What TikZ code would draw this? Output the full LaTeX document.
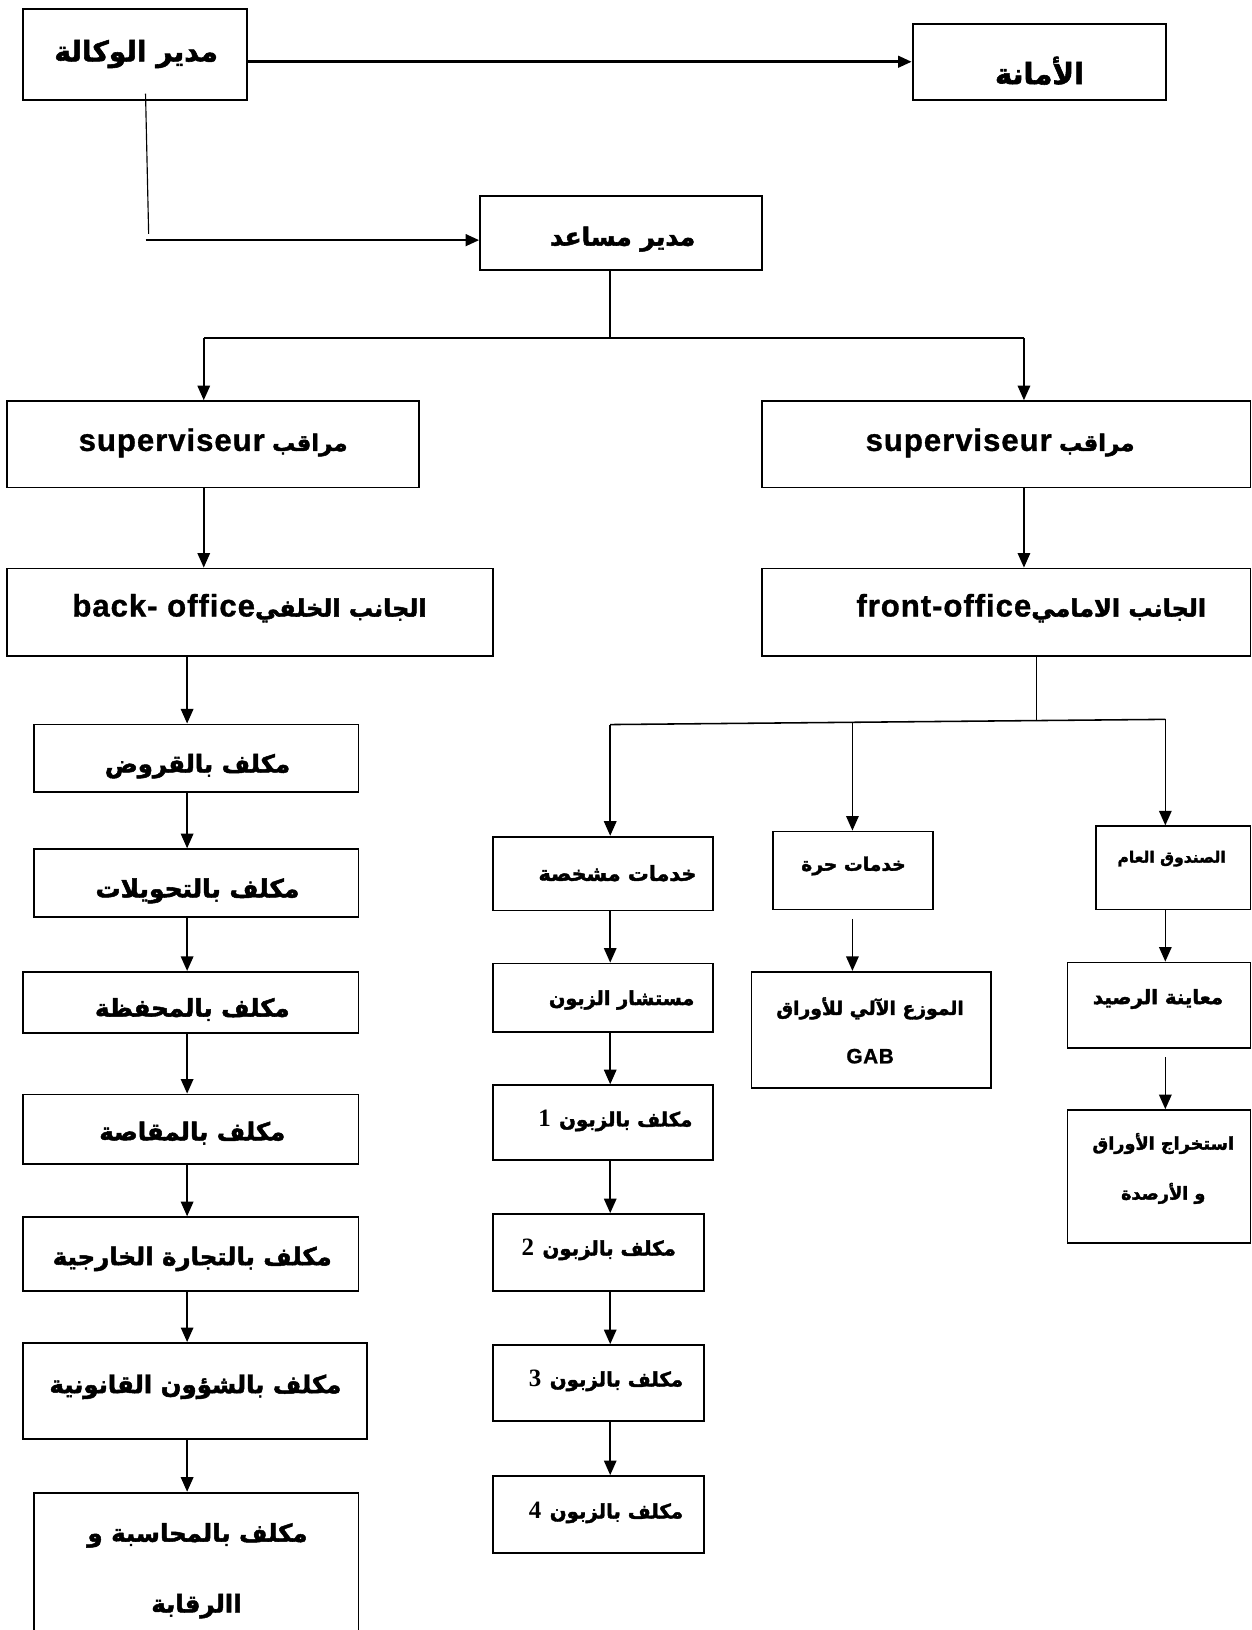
\documentclass[tikz,border=0pt]{standalone}
\usepackage{fontspec}
\TeXXeTstate=1
\newfontfamily\arabicfont[Script=Arabic, BoldFont={DejaVu Sans Bold}, BoldFeatures={FakeBold=2}]{DejaVu Sans}
\newfontfamily\latinfont[LetterSpace=3, BoldFeatures={FakeBold=1}]{Liberation Sans}
\newfontfamily\numfont{Liberation Serif}
\usetikzlibrary{arrows.meta}
\newcommand\AR[2]{{\arabicfont\bfseries\fontsize{#1}{#1}\selectfont #2}}
\newcommand\LT[2]{{\latinfont\bfseries\fontsize{#1}{#1}\selectfont #2}}
\newcommand\NM[2]{{\numfont\bfseries\fontsize{#1}{#1}\selectfont #2}}
\tikzset{
  box/.style={draw, line width=1.8pt, anchor=north west, inner sep=0pt, fill=none},
  txt/.style={inner sep=0pt, align=center},
  conn/.style={line width=1.5pt},
  arr/.style={line width=1.6pt, -{Triangle[length=14pt,width=12pt]}},
  bigarr/.style={line width=2.6pt, -{Triangle[length=13pt,width=11pt]}},
}
\begin{document}
\begin{tikzpicture}[x=1pt,y=-1pt]
\useasboundingbox[fill=white] (0,0) rectangle (1204,1568);
% ---------- boxes ----------
\node[box, minimum width=216, minimum height=87] (dir) at (21,8) {};
\node[box, minimum width=244, minimum height=73] (amana) at (877,22) {};
\node[box, minimum width=271, minimum height=71] (musaid) at (461,188) {};
\node[box, minimum width=470, minimum height=83] (supR) at (732,385) {};
\node[box, minimum width=396, minimum height=83] (supL) at (6,385) {};
\node[box, minimum width=470, minimum height=84] (front) at (732,546) {};
\node[box, minimum width=467, minimum height=84] (back) at (6,546) {};
\node[box, minimum width=312, minimum height=65] (L1) at (32,696) {};
\node[box, minimum width=312, minimum height=65] (L2) at (32,816) {};
\node[box, minimum width=323, minimum height=59] (L3) at (21,934) {};
\node[box, minimum width=323, minimum height=67] (L4) at (21,1052) {};
\node[box, minimum width=323, minimum height=71] (L5) at (21,1170) {};
\node[box, minimum width=331, minimum height=92] (L6) at (21,1291) {};
\node[box, minimum width=312, minimum height=170] (L7) at (32,1435) {};
\node[box, minimum width=212, minimum height=71] (M1) at (473,804) {};
\node[box, minimum width=212, minimum height=66] (M2) at (473,926) {};
\node[box, minimum width=212, minimum height=72] (M3) at (473,1043) {};
\node[box, minimum width=203, minimum height=74] (M4) at (473,1167) {};
\node[box, minimum width=203, minimum height=73] (M5) at (473,1293) {};
\node[box, minimum width=203, minimum height=74] (M6) at (473,1419) {};
\node[box, minimum width=154, minimum height=75] (H1) at (743,799) {};
\node[box, minimum width=230, minimum height=112] (H2) at (722,934) {};
\node[box, minimum width=149, minimum height=80] (R1) at (1053,794) {};
\node[box, minimum width=176, minimum height=82] (R2) at (1026,925) {};
\node[box, minimum width=176, minimum height=128] (R3) at (1026,1067) {};
% ---------- texts ----------
\node[txt] (tdir) at (131,52) {\AR{27}{\beginR مدير الوكالة\endR}};
\node[txt] (tamana) at (1000,68) {\AR{28}{\beginR الأمانة\endR}};
\node[txt] (tmusaid) at (599,230) {\AR{24}{\beginR مدير مساعد\endR}};
\node[txt] (tsupL) at (205,426) {\LT{30}{superviseur}\hspace{7pt}\AR{22}{\beginR مراقب\endR}};
\node[txt] (tsupR) at (962,426) {\LT{30}{superviseur}\hspace{7pt}\AR{22}{\beginR مراقب\endR}};
\node[txt] (tback) at (240,585) {\LT{30}{back- office}\AR{23}{\beginR الجانب الخلفي\endR}};
\node[txt] (tfront) at (992,585) {\LT{30}{front-office}\AR{23}{\beginR الجانب الامامي\endR}};
\node[txt] (tL1) at (190,737) {\AR{23.5}{\beginR مكلف بالقروض\endR}};
\node[txt] (tL2) at (190,857) {\AR{24}{\beginR مكلف بالتحويلات\endR}};
\node[txt] (tL3) at (185,971) {\AR{23.5}{\beginR مكلف بالمحفظة\endR}};
\node[txt] (tL4) at (185,1090) {\AR{23.5}{\beginR مكلف بالمقاصة\endR}};
\node[txt] (tL5) at (185,1211) {\AR{23.5}{\beginR مكلف بالتجارة الخارجية\endR}};
\node[txt] (tL6) at (188,1334) {\AR{23.5}{\beginR مكلف بالشؤون القانونية\endR}};
\node[txt] (tL7a) at (190,1477) {\AR{23.5}{\beginR مكلف بالمحاسبة و\endR}};
\node[txt] (tL7b) at (189,1545) {\AR{23.5}{\beginR االرقابة\endR}};
\node[txt] (tM1) at (594,840) {\AR{20}{\beginR خدمات مشخصة\endR}};
\node[txt] (tM2) at (598,962) {\AR{18.5}{\beginR مستشار الزبون\endR}};
\node[txt] (tM3) at (592,1078) {\NM{24}{1}\hspace{8pt}\AR{19}{\beginR مكلف بالزبون\endR}};
\node[txt] (tM4) at (576,1202) {\NM{24}{2}\hspace{8pt}\AR{19}{\beginR مكلف بالزبون\endR}};
\node[txt] (tM5) at (583,1328) {\NM{24}{3}\hspace{8pt}\AR{19}{\beginR مكلف بالزبون\endR}};
\node[txt] (tM6) at (583,1455) {\NM{24}{4}\hspace{8pt}\AR{19}{\beginR مكلف بالزبون\endR}};
\node[txt] (tH1) at (821,833) {\AR{18}{\beginR خدمات حرة\endR}};
\node[txt] (tH2a) at (837,970) {\AR{18}{\beginR الموزع الآلي للأوراق\endR}};
\node[txt] (tH2b) at (837,1016) {\LT{20}{GAB}};
\node[txt] (tR1) at (1127,826) {\AR{15}{\beginR الصندوق العام\endR}};
\node[txt] (tR2) at (1114,961) {\AR{19}{\beginR معاينة الرصيد\endR}};
\node[txt] (tR3a) at (1119,1100) {\AR{17}{\beginR استخراج الأوراق\endR}};
\node[txt] (tR3b) at (1119,1148) {\AR{17}{\beginR و الأرصدة\endR}};
% ---------- connectors ----------
\draw[bigarr] (dir.east |- amana.west) -- (amana.west);
\coordinate (k0) at (140,90);
\coordinate (k1) at (143,225);
\coordinate (k2) at (140,231);
\draw[line width=1.1pt] (k0) -- (k1);
\draw[bigarr] (k2) -- (musaid.west |- k2);
\coordinate (b0) at (587,325);
\coordinate (bl) at (196,325);
\coordinate (br) at (985,325);
\draw[conn] (musaid.south -| b0) -- (b0);
\draw[conn] (bl) -- (br);
\draw[arr] (bl) -- (bl |- supL.north);
\draw[arr] (br) -- (br |- supR.north);
\draw[arr] (supL.south -| bl) -- (back.north -| bl);
\draw[arr] (supR.south -| br) -- (front.north -| br);
% back office chain
\coordinate (lx) at (180,0);
\draw[arr] (back.south -| lx) -- (L1.north -| lx);
\draw[arr] (L1.south -| lx) -- (L2.north -| lx);
\draw[arr] (L2.south -| lx) -- (L3.north -| lx);
\draw[arr] (L3.south -| lx) -- (L4.north -| lx);
\draw[arr] (L4.south -| lx) -- (L5.north -| lx);
\draw[arr] (L5.south -| lx) -- (L6.north -| lx);
\draw[arr] (L6.south -| lx) -- (L7.north -| lx);
% front office branch
\coordinate (f0) at (997,693);
\coordinate (fm) at (587,697);
\coordinate (fh) at (820,695);
\coordinate (fr) at (1121,692);
\draw[conn] (front.south -| f0) -- (f0);
\draw[conn] (fm) -- (fr);
\draw[arr] (fm) -- (M1.north -| fm);
\draw[arr] (fh) -- (H1.north -| fh);
\draw[arr] (fr) -- (R1.north -| fr);
\draw[arr] (M1.south -| fm) -- (M2.north -| fm);
\draw[arr] (M2.south -| fm) -- (M3.north -| fm);
\draw[arr] (M3.south -| fm) -- (M4.north -| fm);
\draw[arr] (M4.south -| fm) -- (M5.north -| fm);
\draw[arr] (M5.south -| fm) -- (M6.north -| fm);
\draw[arr] ([yshift=-8pt]H1.south -| fh) -- (H2.north -| fh);
\draw[arr] (R1.south -| fr) -- (R2.north -| fr);
\draw[arr] ([yshift=-8pt]R2.south -| fr) -- (R3.north -| fr);
\end{tikzpicture}
\end{document}
